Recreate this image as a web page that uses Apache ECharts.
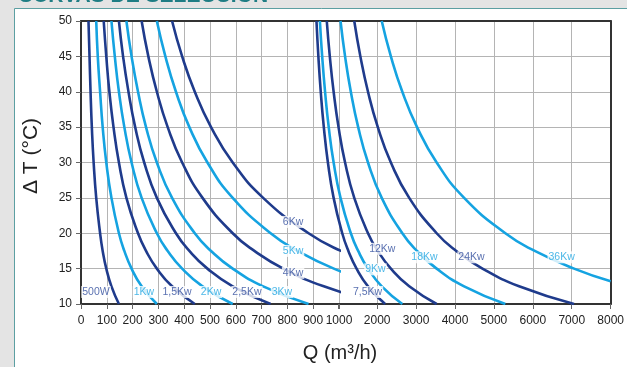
<!DOCTYPE html>
<html><head><meta charset="utf-8">
<script src="https://cdn.jsdelivr.net/npm/echarts@6/dist/echarts.min.js"></script>
<style>html,body{margin:0;padding:0;background:#e4e4e4;overflow:hidden}#c{width:627px;height:367px}</style>
</head><body><div id="c"></div>
<script>
// ΔT levels (°C) at which the flow values were read
const deltaT = [50, 45, 40, 35, 30, 25, 20, 17.5, 15, 12.5, 10];
// Left panel curves: Q (m3/h) read at each deltaT
const q500W = [29, 33, 37, 42, 49, 59, 74, 84, 98, 118, 147];
const q1Kw  = [59, 65, 74, 84, 98, 118, 147, 168, 196, 235, 294];
const q1_5Kw= [88, 98, 110, 126, 147, 176, 221, 252, 294, 353, 441];
const q2Kw  = [118, 131, 147, 168, 196, 235, 294, 336, 392, 471, 588];
const q2_5Kw= [147, 163, 184, 210, 245, 294, 368, 420, 490, 588, 735];
const q3Kw  = [176, 196, 221, 252, 294, 353, 441, 504, 588, 706, 882];
const q4Kw  = [235, 261, 294, 336, 392, 471, 588, 672, 784, 941, 1176];
const q5Kw  = [294, 327, 368, 420, 490, 588, 735, 840, 980, 1176, 1471];
const q6Kw  = [353, 392, 441, 504, 588, 706, 882, 1008, 1176, 1412, 1765];
// Right panel curves
const q7_5Kw= [441, 490, 551, 630, 735, 882, 1103, 1261, 1471, 1765, 2206];
const q9Kw  = [529, 588, 662, 756, 882, 1059, 1324, 1513, 1765, 2118, 2647];
const q12Kw = [706, 784, 882, 1008, 1176, 1412, 1765, 2017, 2353, 2824, 3529];
const q18Kw = [1059, 1176, 1324, 1513, 1765, 2118, 2647, 3025, 3529, 4235, 5294];
const q24Kw = [1412, 1569, 1765, 2017, 2353, 2824, 3529, 4034, 4706, 5647, 7059];
const deltaT36 = [50, 45, 40, 35, 30, 25, 20, 17.5, 15, 13.2];
const q36Kw = [2118, 2353, 2647, 3025, 3529, 4235, 5294, 6050, 7059, 8000];

const leftNames  = ['500W','1Kw','1,5Kw','2Kw','2,5Kw','3Kw','4Kw','5Kw','6Kw'];
const leftQ      = [q500W, q1Kw, q1_5Kw, q2Kw, q2_5Kw, q3Kw, q4Kw, q5Kw, q6Kw];
const rightNames = ['7,5Kw','9Kw','12Kw','18Kw','24Kw','36Kw'];
const rightQ     = [q7_5Kw, q9Kw, q12Kw, q18Kw, q24Kw, q36Kw];
const rightT     = [deltaT, deltaT, deltaT, deltaT, deltaT, deltaT36];
const leftDark   = [true,false,true,false,true,false,true,false,true];
const rightDark  = [true,false,true,false,true,false];

// curve label anchor points (Q, ΔT)
const leftLabelQ  = [58, 244, 372, 504, 643, 779, 822, 822, 822];
const leftLabelT  = [11.7, 11.7, 11.7, 11.7, 11.7, 11.7, 14.4, 17.5, 21.6];
const rightLabelQ = [1755, 1957, 2133, 3216, 4424, 6741];
const rightLabelT = [11.7, 14.9, 17.8, 16.6, 16.6, 16.6];

const leftTicks  = [0,100,200,300,400,500,600,700,800,900,1000];
const rightTickVals  = [1000,2000,3000,4000,5000,6000,7000,8000];
const rightLabelVals = [2000,3000,4000,5000,6000,7000,8000];
const yTicks     = [10,15,20,25,30,35,40,45,50];

const DARK = '#1f3b8c', LIGHT = '#15a3e1';
const DARK_TXT = '#2f4c9c', LIGHT_TXT = '#1fa5e1';
const FONT = '"Liberation Sans", Arial, sans-serif';

const chart = echarts.init(document.getElementById('c'));
const series = [];
leftNames.forEach((n, i) => {
  series.push({
    type: 'line', name: n, xAxisIndex: 0, yAxisIndex: 0, smooth: true, showSymbol: false,
    clip: true, silent: true,
    lineStyle: {width: 2.6, color: leftDark[i] ? DARK : LIGHT},
    data: leftQ[i].map((q, k) => [q, deltaT[k]])
  });
});
rightNames.forEach((n, i) => {
  series.push({
    type: 'line', name: n, xAxisIndex: 2, yAxisIndex: 1, smooth: true, showSymbol: false,
    clip: true, silent: true,
    lineStyle: {width: 2.6, color: rightDark[i] ? DARK : LIGHT},
    data: rightQ[i].map((q, k) => [q, rightT[i][k]])
  });
});
const lblStyle = {show: true, position: 'inside', formatter: '{b}', fontSize: 10.5, fontFamily: FONT,
  backgroundColor: '#ffffff', padding: [1, 1, 0, 1]};
series.push({
  type: 'scatter', xAxisIndex: 0, yAxisIndex: 0, symbolSize: 0, silent: true, z: 10, clip: false,
  data: leftNames.map((n, i) => ({name: n, value: [leftLabelQ[i], leftLabelT[i]],
    label: Object.assign({}, lblStyle, {color: leftDark[i] ? DARK_TXT : LIGHT_TXT})}))
});
series.push({
  type: 'scatter', xAxisIndex: 2, yAxisIndex: 1, symbolSize: 0, silent: true, z: 10, clip: false,
  data: rightNames.map((n, i) => ({name: n, value: [rightLabelQ[i], rightLabelT[i]],
    label: Object.assign({}, lblStyle, {color: rightDark[i] ? DARK_TXT : LIGHT_TXT})}))
});

const frameLine = {show: true, onZero: false, lineStyle: {color: '#333', width: 2}};
const gridLine = {show: true, lineStyle: {color: '#b4b4b4', width: 1}};
const lbl = {fontSize: 12, color: '#222', fontFamily: FONT, formatter: v => String(v)};

chart.setOption({
  animation: false,
  backgroundColor: '#e4e4e4',
  graphic: [
    {type: 'rect', z: -10, shape: {x: 14.5, y: 8.5, width: 700, height: 400},
     style: {fill: '#ffffff', stroke: '#5c9fa2', lineWidth: 1}},
    {type: 'text', x: 18, y: 6.5, z: -9, style: {text: 'CURVAS DE SELECCIÓN', fill: '#1f7d84',
      font: 'bold 21px ' + FONT, textVerticalAlign: 'bottom'}},
    {type: 'text', x: 340, y: 353, style: {text: 'Q (m³/h)', fill: '#222', font: '20px ' + FONT,
      textAlign: 'center', textVerticalAlign: 'middle'}},
    {type: 'text', x: 31, y: 156, rotation: Math.PI / 2, style: {text: 'Δ T (°C)', fill: '#222',
      font: '21px ' + FONT, textAlign: 'center', textVerticalAlign: 'middle'}}
  ],
  grid: [
    {left: 81, top: 21, width: 258, height: 283},
    {left: 299.3, top: 21, width: 317.7, height: 283}
  ],
  xAxis: [
    {gridIndex: 0, type: 'value', position: 'bottom', min: leftTicks[0], max: leftTicks[leftTicks.length-1],
     interval: 100, axisLine: frameLine, axisTick: {show: true, length: 5, lineStyle: {color: '#666'}},
     axisLabel: Object.assign({margin: 11}, lbl), splitLine: gridLine},
    {gridIndex: 0, type: 'value', position: 'top', min: 0, max: 1000, axisLine: frameLine,
     axisTick: {show: false}, axisLabel: {show: false}, splitLine: {show: false}},
    {gridIndex: 1, type: 'value', position: 'bottom', min: 0, max: 8000,
     interval: 1000, axisLine: frameLine,
     axisTick: {show: true, length: 5, customValues: rightTickVals, lineStyle: {color: '#666'}},
     axisLabel: Object.assign({margin: 11, customValues: rightLabelVals}, lbl),
     splitLine: {show: true, lineStyle: {width: 1,
       color: ['rgba(0,0,0,0)', '#b4b4b4', '#b4b4b4', '#b4b4b4', '#b4b4b4', '#b4b4b4', '#b4b4b4', '#b4b4b4', '#b4b4b4']}}},
    {gridIndex: 1, type: 'value', position: 'top', min: 0, max: 8000, axisLine: frameLine,
     axisTick: {show: false}, axisLabel: {show: false}, splitLine: {show: false}}
  ],
  yAxis: [
    {gridIndex: 0, type: 'value', position: 'left', min: yTicks[0], max: yTicks[yTicks.length-1], interval: 5,
     axisLine: frameLine, axisTick: {show: true, length: 5, lineStyle: {color: '#666'}},
     axisLabel: Object.assign({margin: 9}, lbl), splitLine: gridLine},
    {gridIndex: 1, type: 'value', position: 'right', min: 10, max: 50, interval: 5,
     axisLine: frameLine, axisTick: {show: false}, axisLabel: {show: false}, splitLine: gridLine}
  ],
  series: series
});
</script></body></html>
